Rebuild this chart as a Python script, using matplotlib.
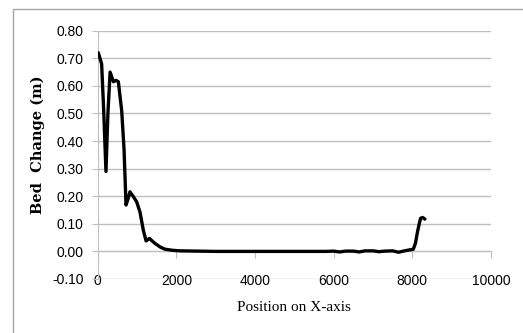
import numpy as np
import matplotlib
matplotlib.use("Agg")
import matplotlib.pyplot as plt
from matplotlib.patches import Rectangle

# values
position = [15, 100, 150, 210, 260, 315, 400, 465, 525, 610, 670, 720, 770, 820,
            900, 990, 1075, 1160, 1230, 1315, 1455, 1600, 1710, 1900, 2090, 3000,
            4000, 5000, 5800, 6000, 6150, 6300, 6500, 6650, 6800, 7000, 7150,
            7300, 7500, 7650, 7800, 7950, 8025, 8080, 8130, 8175, 8210, 8260, 8320]
bed_change = [0.72, 0.68, 0.52, 0.29, 0.50, 0.65, 0.615, 0.62, 0.615, 0.51, 0.37,
              0.168, 0.19, 0.216, 0.20, 0.18, 0.143, 0.077, 0.038, 0.047, 0.029,
              0.015, 0.008, 0.004, 0.002, 0.0, 0.0, 0.0, 0.0, 0.001, -0.002, 0.001,
              0.001, -0.002, 0.002, 0.002, -0.001, 0.001, 0.002, -0.003, 0.002,
              0.006, 0.008, 0.03, 0.07, 0.10, 0.12, 0.123, 0.117]

y_ticks = np.arange(-0.1, 0.81, 0.1)
x_ticks = [0, 2000, 4000, 6000, 8000, 10000]

fig = plt.figure(figsize=(5.23, 3.33), dpi=100)
fig.patches.append(Rectangle((0.025, -0.05), 1.0, 1.023, transform=fig.transFigure,
                             fill=False, edgecolor="#a6a6a6", linewidth=1.0))

ax = fig.add_axes([0.1868, 0.1622, 0.752, 0.7456])
ax.plot(position, bed_change, color="black", linewidth=2.4, solid_capstyle="round",
        solid_joinstyle="round", zorder=3)

ax.set_xlim(0, 10000)
ax.set_ylim(-0.1, 0.8)
ax.set_yticks(y_ticks)
ax.set_yticklabels(["%.2f" % v for v in y_ticks])
ax.set_xticks(x_ticks)

ax.grid(axis="y", color="#bfbfbf", linewidth=1.0)
ax.set_axisbelow(True)
for side in ["top", "right"]:
    ax.spines[side].set_visible(False)
ax.spines["left"].set_color("#bfbfbf")
ax.spines["bottom"].set_position(("data", 0))
ax.spines["bottom"].set_color("#bfbfbf")
ax.spines["bottom"].set_zorder(2)

ax.tick_params(axis="y", length=4, color="#bfbfbf", pad=6, labelsize=10)
ax.tick_params(axis="x", length=5, color="#bfbfbf", pad=11, labelsize=10)
for lab in ax.get_xticklabels() + ax.get_yticklabels():
    lab.set_fontfamily("Liberation Sans")

ax.set_ylabel("Bed  Change (m)", fontfamily="DejaVu Serif", fontweight="bold",
              fontsize=10.5)
ax.yaxis.set_label_coords(-0.134, 0.54)
ax.set_xlabel("Position on X-axis", fontfamily="Liberation Serif", fontsize=11)
ax.xaxis.set_label_coords(0.5, -0.09)

fig.savefig("out.png", dpi=100)
